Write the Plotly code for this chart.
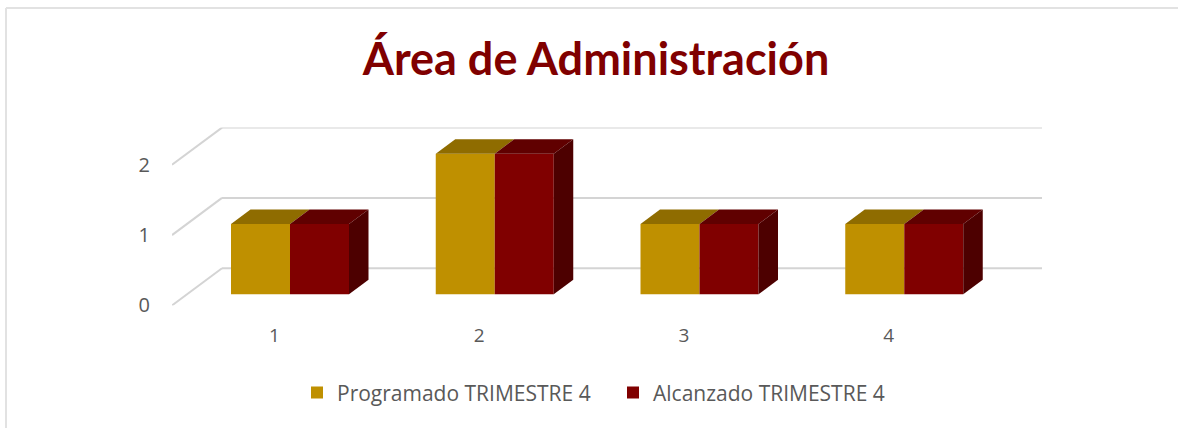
import plotly.graph_objects as go

categories = [1, 2, 3, 4]
programado = [1, 2, 1, 1]
alcanzado = [1, 2, 1, 1]
y_ticks = [0, 1, 2]
title_text = "Área de Administración"
series_names = ["Programado TRIMESTRE 4", "Alcanzado TRIMESTRE 4"]

W, H = 1184, 443
VH = 428  # height of the visible picture; layout positions are given as fractions of it
PX_LEFT, PX_RIGHT, PX_TOP, PX_BOTTOM = 172, 1042, 127, 304
PX_X = 204.75   # px per category
PX_Y = 70.0     # px per value unit
X0 = 0.5
XMAX = X0 + (PX_RIGHT - PX_LEFT) / PX_X
YMAX = (PX_BOTTOM - PX_TOP) / PX_Y

WALL_DX, WALL_DY = 50 / PX_X, 37 / PX_Y
BAR_W = 59 / PX_X
BAR_DX, BAR_DY = 19.5 / PX_X, 14.5 / PX_Y
BAR_BASE = 11 / PX_Y
BAR_START = (231 - 172) / PX_X + X0 - 1  # left edge relative to the category tick

GOLD, GOLD_TOP = "#BF9000", "#8F6C00"
RED, RED_TOP, RED_SIDE = "#800000", "#600000", "#4D0000"
GRID = "#D4D4D4"
TEXT = "#595959"

fig = go.Figure()

# Floor / wall gridlines below every trace: one diagonal plus one back-wall line per tick
grid_shapes = []
for t in y_ticks:
    grid_shapes.append(dict(type="line", layer="below", xref="x", yref="y",
                            x0=X0, y0=t, x1=X0 + WALL_DX, y1=t + WALL_DY,
                            line=dict(color=GRID, width=2)))
    grid_shapes.append(dict(type="line", layer="below", xref="x", yref="y",
                            x0=X0 + WALL_DX, y0=t + WALL_DY, x1=XMAX, y1=t + WALL_DY,
                            line=dict(color=GRID, width=2)))

series = [
    (series_names[0], programado, 0, GOLD, GOLD_TOP, None),
    (series_names[1], alcanzado, 1, RED, RED_TOP, RED_SIDE),
]

for name, values, idx, col, top_col, side_col in series:
    lefts = [c + BAR_START + idx * BAR_W for c in categories]
    # Top faces
    for l, v in zip(lefts, values):
        t = BAR_BASE + v
        fig.add_trace(go.Scatter(
            x=[l, l + BAR_W, l + BAR_W + BAR_DX, l + BAR_DX, l],
            y=[t, t, t + BAR_DY, t + BAR_DY, t],
            mode="lines", line=dict(width=0), fill="toself", fillcolor=top_col,
            hoverinfo="skip", showlegend=False))
    # Side faces
    if side_col:
        for l, v in zip(lefts, values):
            r = l + BAR_W
            t = BAR_BASE + v
            fig.add_trace(go.Scatter(
                x=[r, r + BAR_DX, r + BAR_DX, r, r],
                y=[BAR_BASE, BAR_BASE + BAR_DY, t + BAR_DY, t, BAR_BASE],
                mode="lines", line=dict(width=0), fill="toself", fillcolor=side_col,
                hoverinfo="skip", showlegend=False))
    # Front faces
    fig.add_trace(go.Bar(
        x=categories, y=values, base=BAR_BASE,
        width=BAR_W, offset=BAR_START + idx * BAR_W,
        name=name, marker=dict(color=col, line=dict(width=0))))

fig.update_layout(
    width=W, height=H,
    margin=dict(l=0, r=0, t=0, b=0),
    autosize=False,
    paper_bgcolor="white", plot_bgcolor="rgba(0,0,0,0)",
    barmode="overlay",
    font=dict(family="Open Sans", color=TEXT),
    title=dict(text=title_text, x=596 / W, xanchor="center", y=1 - 57.5 / VH, yanchor="middle",
               font=dict(family="Lato", size=45, color="#800000", weight="bold")),
    xaxis=dict(domain=[PX_LEFT / W, PX_RIGHT / W], range=[X0, XMAX],
               tickmode="array", tickvals=categories, ticktext=[str(c) for c in categories],
               showgrid=False, zeroline=False, showline=False, ticks="",
               ticklabelstandoff=17, tickfont=dict(size=19, color=TEXT)),
    yaxis=dict(domain=[1 - PX_BOTTOM / VH, 1 - PX_TOP / VH], range=[0, YMAX],
               tickmode="array", tickvals=y_ticks, ticktext=[str(t) for t in y_ticks],
               showgrid=False, zeroline=False, showline=False, ticks="",
               ticklabelstandoff=21, tickfont=dict(size=20, color=TEXT)),
    legend=dict(orientation="h", x=297 / W, xanchor="left", y=1 - 391 / VH, yanchor="middle",
                font=dict(size=21, color=TEXT), traceorder="normal",
                itemwidth=30, entrywidth=271, entrywidthmode="pixels",
                bgcolor="rgba(0,0,0,0)"),
    shapes=grid_shapes + [
        dict(type="line", xref="paper", yref="paper", x0=6 / W, x1=1178 / W,
             y0=1 - 8 / VH, y1=1 - 8 / VH, line=dict(color="#E2E2E2", width=2)),
        dict(type="line", xref="paper", yref="paper", x0=6 / W, x1=6 / W,
             y0=1 - 8 / VH, y1=0, line=dict(color="#E2E2E2", width=2)),
    ],
)

fig.write_html("out.html", config=dict(responsive=False, displayModeBar=False),
               post_script="document.body.style.margin='0';document.documentElement.style.overflow='hidden';")
